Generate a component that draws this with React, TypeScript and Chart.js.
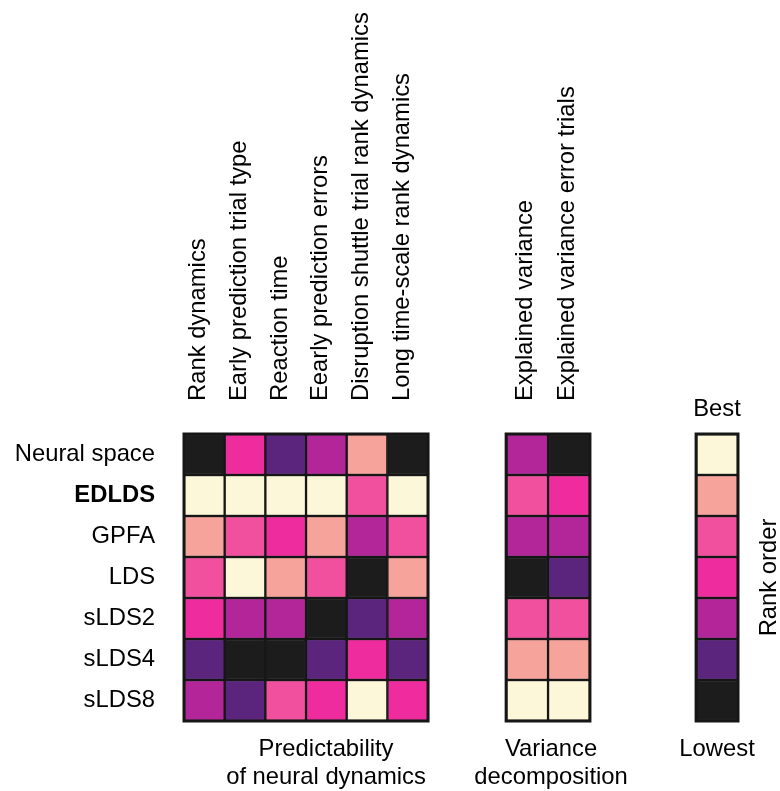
import React, { useEffect, useRef } from "react";
import { Chart, registerables } from "chart.js";

Chart.register(...registerables);

// ---- data ----
const ROWS = ["Neural space", "EDLDS", "GPFA", "LDS", "sLDS2", "sLDS4", "sLDS8"];
const PRED_COLS = [
  "Rank dynamics",
  "Early prediction trial type",
  "Reaction time",
  "Eearly prediction errors",
  "Disruption shuttle trial rank dynamics",
  "Long time-scale rank dynamics",
];
const VAR_COLS = ["Explained variance", "Explained variance error trials"];

// rank per row (1 = best ... 7 = lowest)
const rankDynamics = [7, 1, 2, 3, 4, 6, 5];
const earlyPredictionTrialType = [4, 1, 3, 1, 5, 7, 6];
const reactionTime = [6, 1, 4, 2, 5, 7, 3];
const earlyPredictionErrors = [5, 1, 2, 3, 7, 6, 4];
const disruptionShuttle = [2, 3, 5, 7, 6, 4, 1];
const longTimeScale = [7, 1, 3, 2, 5, 6, 4];
const explainedVariance = [5, 3, 5, 7, 3, 2, 1];
const explainedVarianceError = [7, 4, 5, 6, 3, 2, 1];
const RANK_SCALE = [1, 2, 3, 4, 5, 6, 7];

const RANK_COLORS = ["#FCF7D8", "#F6A39B", "#F0509E", "#EF2C9E", "#B2269A", "#5B247D", "#1C1C1C"];
const GROUP_LABELS = [
  ["Predictability", "of neural dynamics"],
  ["Variance", "decomposition"],
];
const LEGEND_TOP = "Best";
const LEGEND_BOTTOM = "Lowest";
const LEGEND_TITLE = "Rank order";

// ---- layout (x in column units) ----
const BLOCKS = [
  { start: 0, width: 1, cols: PRED_COLS, values: [rankDynamics, earlyPredictionTrialType, reactionTime, earlyPredictionErrors, disruptionShuttle, longTimeScale], labelShift: 1 },
  { start: 7.92, width: 1.03, cols: VAR_COLS, values: [explainedVariance, explainedVarianceError], labelShift: 5 },
  { start: 12.59, width: 1.03, cols: [""], values: [RANK_SCALE], labelShift: 0 },
];
const X_MAX = 13.62;
const FONT_FAMILY = '"Liberation Sans", Arial, Helvetica, sans-serif';
const FONT_SIZE = 23.8;

export default function App() {
  const ref = useRef<HTMLCanvasElement | null>(null);

  useEffect(() => {
    if (!ref.current) return;
    const datasets: any[] = [];
    BLOCKS.forEach((b) => {
      b.values.forEach((vals, ci) => {
        const x0 = b.start + ci * b.width;
        const x1 = x0 + b.width;
        datasets.push({
          label: b.cols[ci],
          data: ROWS.map(() => [x0, x1]),
          backgroundColor: vals.map((r) => RANK_COLORS[r - 1]),
          borderColor: "#161616",
          borderWidth: 1.5,
          borderSkipped: false,
          grouped: false,
          barPercentage: 1,
          categoryPercentage: 1,
        });
      });
    });

    const textPlugin = {
      id: "texts",
      afterDatasetsDraw(chart: any) {
        const ctx = chart.ctx;
        const xs = chart.scales.x;
        const area = chart.chartArea;
        ctx.save();
        // outer frames
        ctx.strokeStyle = "#161616";
        ctx.lineWidth = 3;
        BLOCKS.forEach((b) => {
          const l = xs.getPixelForValue(b.start);
          const r = xs.getPixelForValue(b.start + b.width * b.values.length);
          ctx.strokeRect(l, area.top, r - l, area.bottom - area.top);
        });
        ctx.fillStyle = "#000";
        ctx.font = `${FONT_SIZE}px ${FONT_FAMILY}`;
        // column labels (rotated)
        BLOCKS.forEach((b) => {
          b.cols.forEach((name, ci) => {
            if (!name) return;
            const xc = xs.getPixelForValue(b.start + (ci + 0.5) * b.width);
            ctx.save();
            ctx.translate(xc + b.labelShift, area.top - 33);
            ctx.rotate(-Math.PI / 2);
            ctx.textAlign = "left";
            ctx.textBaseline = "alphabetic";
            ctx.fillText(name, 0, 0);
            ctx.restore();
          });
        });
        // group labels
        ctx.textAlign = "center";
        ctx.textBaseline = "middle";
        const g1 = xs.getPixelForValue(BLOCKS[0].start + 3 * BLOCKS[0].width) + 20;
        const g2 = xs.getPixelForValue(BLOCKS[1].start + 1 * BLOCKS[1].width) + 3;
        const lg = xs.getPixelForValue(BLOCKS[2].start + 0.5 * BLOCKS[2].width);
        ctx.fillText(GROUP_LABELS[0][0], g1, area.bottom + 28);
        ctx.fillText(GROUP_LABELS[0][1], g1, area.bottom + 56);
        ctx.fillText(GROUP_LABELS[1][0], g2, area.bottom + 28);
        ctx.fillText(GROUP_LABELS[1][1], g2, area.bottom + 56);
        ctx.fillText(LEGEND_TOP, lg, area.top - 25);
        ctx.fillText(LEGEND_BOTTOM, lg, area.bottom + 28);
        ctx.save();
        ctx.translate(xs.getPixelForValue(X_MAX) + 31, (area.top + area.bottom) / 2);
        ctx.rotate(-Math.PI / 2);
        ctx.fillText(LEGEND_TITLE, 0, 0);
        ctx.restore();
        ctx.restore();
      },
    };

    const chart = new Chart(ref.current, {
      type: "bar",
      data: { labels: ROWS, datasets },
      options: {
        indexAxis: "y",
        animation: false,
        responsive: true,
        maintainAspectRatio: false,
        layout: { padding: { left: 0, top: 434, right: 42, bottom: 70 } },
        plugins: { legend: { display: false }, tooltip: { enabled: false } },
        scales: {
          x: { type: "linear", min: 0, max: X_MAX, display: false },
          y: {
            type: "category",
            labels: ROWS,
            offset: true,
            grid: { display: false, drawTicks: false },
            border: { display: false },
            afterFit: (scale: any) => {
              scale.width = 184;
            },
            ticks: {
              padding: 29,
              color: "#000",
              font: (c: any) => ({
                family: FONT_FAMILY,
                size: FONT_SIZE,
                weight: c.index === 1 ? "bold" : "normal",
              }),
            },
          },
        },
      },
      plugins: [textPlugin],
    } as any);
    return () => chart.destroy();
  }, []);

  return (
    <div style={{ position: "fixed", left: 0, top: 0, width: 780, height: 791, background: "#fff" }}>
      <canvas ref={ref} />
    </div>
  );
}
